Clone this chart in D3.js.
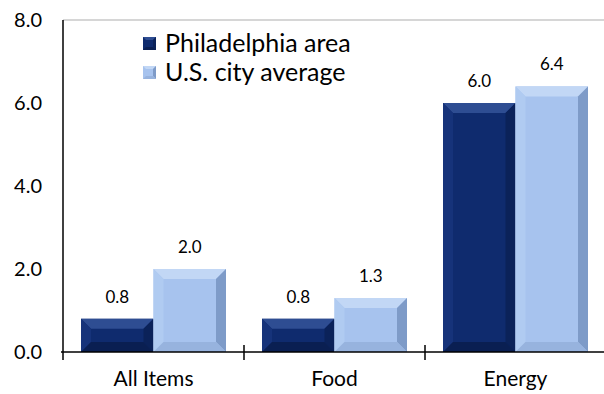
<!DOCTYPE html>
<html>
<head>
<meta charset="utf-8">
<script src="https://cdn.jsdelivr.net/npm/d3@7"></script>
<style>
  body { margin: 0; background: #fff; }
  text { font-family: Lato, "Open Sans", sans-serif; fill: #000; }
</style>
</head>
<body>
<div id="chart"></div>
<script>
// data
var categories = ["All Items", "Food", "Energy"];
var seriesNames = ["Philadelphia area", "U.S. city average"];
var philly = [0.8, 0.8, 6.0];
var usAvg = [2.0, 1.3, 6.4];
var yTicks = [0, 2, 4, 6, 8];

var width = 604, height = 394;
var plotLeft = 63, plotRight = 606, plotTop = 20, plotBottom = 352;

var svg = d3.select('#chart').append('svg')
  .attr('width', width).attr('height', height);

var y = d3.scaleLinear().domain([0, 8]).range([plotBottom, plotTop]);
var x = d3.scaleBand().domain(categories).range([plotLeft, plotRight]);
var x1 = d3.scaleBand().domain(seriesNames).range([18, 163]);

// colours for each series: face, top, left, right, bottom
var shades = {
  "Philadelphia area": {face: '#0f2b6e', top: '#2e4d92', left: '#16337a', right: '#0b2259', bottom: '#0a1f52'},
  "U.S. city average": {face: '#a7c3ee', top: '#c2d7f5', left: '#b0cbf1', right: '#7e9bc8', bottom: '#97b3de'}
};

// top border of plot area
svg.append('line')
  .attr('x1', plotLeft).attr('x2', width)
  .attr('y1', plotTop).attr('y2', plotTop)
  .attr('stroke', '#c8c8c8').attr('stroke-width', 1.5);

var rows = [];
categories.forEach(function(c, i) {
  rows.push({cat: c, series: seriesNames[0], value: philly[i]});
  rows.push({cat: c, series: seriesNames[1], value: usAvg[i]});
});

// bevelled bars
var bevel = 10;
var bars = svg.selectAll('g.bar').data(rows).enter().append('g').attr('class', 'bar');
bars.each(function(d) {
  var g = d3.select(this);
  var x0 = x(d.cat) + x1(d.series), w = x1.bandwidth();
  var y0 = y(d.value), h = y(0) - y0;
  var s = shades[d.series];
  var b = Math.min(bevel, h / 2, w / 2);
  var x2 = x0 + w, y2 = y0 + h;
  g.append('rect').attr('x', x0).attr('y', y0).attr('width', w).attr('height', h).attr('fill', s.face);
  var poly = function(pts, fill) {
    g.append('polygon').attr('points', pts.map(function(p) { return p.join(','); }).join(' ')).attr('fill', fill);
  };
  poly([[x0, y0], [x2, y0], [x2 - b, y0 + b], [x0 + b, y0 + b]], s.top);
  poly([[x0, y0], [x0 + b, y0 + b], [x0 + b, y2 - b], [x0, y2]], s.left);
  poly([[x2, y0], [x2, y2], [x2 - b, y2 - b], [x2 - b, y0 + b]], s.right);
  poly([[x0, y2], [x0 + b, y2 - b], [x2 - b, y2 - b], [x2, y2]], s.bottom);
  g.append('text')
    .attr('x', x0 + w / 2).attr('y', y0 - 16)
    .attr('text-anchor', 'middle').style('font-size', '17px')
    .text(d3.format('.1f')(d.value));
});

// y axis labels
svg.selectAll('text.ytick').data(yTicks).enter().append('text')
  .attr('class', 'ytick')
  .attr('x', 42).attr('y', function(d) { return y(d) + 7; })
  .attr('text-anchor', 'end').style('font-size', '20px')
  .text(d3.format('.1f'));

// axes lines
svg.append('line').attr('x1', plotLeft).attr('x2', plotLeft).attr('y1', plotTop).attr('y2', plotBottom)
  .attr('stroke', '#000').attr('stroke-width', 1.5);
svg.append('line').attr('x1', plotLeft - 2).attr('x2', width).attr('y1', plotBottom).attr('y2', plotBottom)
  .attr('stroke', '#000').attr('stroke-width', 1.5);

// category dividers
svg.selectAll('line.ctick').data(categories.slice(1)).enter().append('line')
  .attr('class', 'ctick')
  .attr('x1', function(d) { return x(d); }).attr('x2', function(d) { return x(d); })
  .attr('y1', plotBottom - 7).attr('y2', plotBottom + 8)
  .attr('stroke', '#000').attr('stroke-width', 1.5);
svg.append('line').attr('x1', plotLeft).attr('x2', plotLeft).attr('y1', plotBottom).attr('y2', plotBottom + 8)
  .attr('stroke', '#000').attr('stroke-width', 1.5);

// category labels
svg.selectAll('text.cat').data(categories).enter().append('text')
  .attr('class', 'cat')
  .attr('x', function(d) { return x(d) + x.bandwidth() / 2; })
  .attr('y', plotBottom + 34)
  .attr('text-anchor', 'middle').style('font-size', '21px')
  .text(function(d) { return d; });

// legend
var legend = svg.selectAll('g.legend').data(seriesNames).enter().append('g')
  .attr('class', 'legend')
  .attr('transform', function(d, i) { return 'translate(143,' + (37 + i * 29) + ')'; });
legend.each(function(d) {
  var g = d3.select(this), s = shades[d], sz = 13, b = 3;
  g.append('rect').attr('width', sz).attr('height', sz).attr('fill', s.face);
  g.append('polygon').attr('points', [[0, 0], [sz, 0], [sz - b, b], [b, b]].join(' ')).attr('fill', s.top);
  g.append('polygon').attr('points', [[sz, 0], [sz, sz], [sz - b, sz - b], [sz - b, b]].join(' ')).attr('fill', s.right);
  g.append('polygon').attr('points', [[0, sz], [b, sz - b], [sz - b, sz - b], [sz, sz]].join(' ')).attr('fill', s.bottom);
  g.append('text').attr('x', 22).attr('y', 15).style('font-size', '25px').text(d);
});
</script>
</body>
</html>
